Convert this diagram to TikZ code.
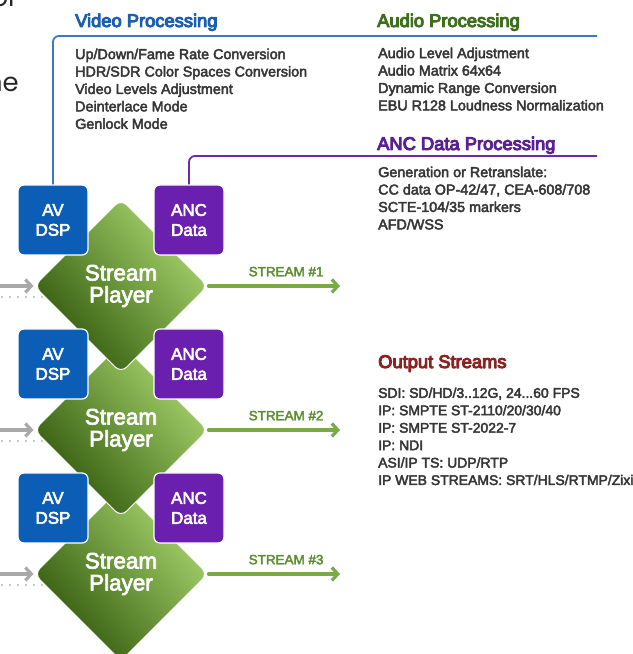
\documentclass[tikz,border=0pt]{standalone}
\usepackage{fontspec}
\setmainfont{Liberation Sans}
\newfontfamily\medfont{Liberation Sans}[FakeBold=3.2]
\newfontfamily\headfont{Liberation Sans}[FakeBold=5.5]
\newfontfamily\fragfont{Poppins}
\usetikzlibrary{shapes.geometric,arrows.meta}
\definecolor{dspblue}{HTML}{0B5DB5}
\definecolor{ancpurple}{HTML}{6A1FAE}
\definecolor{vidblue}{HTML}{1C5FB0}
\definecolor{audgreen}{HTML}{3F6E1E}
\definecolor{ancviolet}{HTML}{5B2192}
\definecolor{outred}{HTML}{8C2323}
\definecolor{bodygray}{HTML}{363636}
\definecolor{playdark}{HTML}{2F560A}
\definecolor{playlight}{HTML}{A8D66E}
\definecolor{streamgreen}{HTML}{79A948}
\definecolor{streamtext}{HTML}{5E8E34}
\definecolor{ingray}{HTML}{A9A9A9}
\definecolor{bluewire}{HTML}{3C78C6}
\definecolor{purplewire}{HTML}{6B2DA6}
\begin{document}
\begin{tikzpicture}[>={Straight Barb[length=6bp,width=13bp]},line join=round,
  player/.style={shape=diamond,minimum width=174bp,minimum height=174bp,inner sep=0pt,rounded corners=8bp,
    draw=white,line width=1bp,top color=playdark,bottom color=playlight,shading angle=130,
    text=white,align=center,font=\fontsize{22.5}{22}\medfont},
  avbox/.style={rectangle,rounded corners=6bp,minimum size=70bp,inner sep=0pt,fill=dspblue,draw=white,
    line width=1.2bp,text=white,align=center,font=\fontsize{17}{20}\medfont},
  ancbox/.style={avbox,fill=ancpurple},
  title/.style={anchor=base west,inner sep=0pt,font=\fontsize{18.4}{20}\headfont},
  list/.style={anchor=north west,inner sep=0pt,align=left,text=bodygray,font=\fontsize{14.4}{17.5}\medfont},
  wire/.style={line width=1.8bp,rounded corners=6bp},
  streamout/.style={->,draw=streamgreen,line width=3.2bp,line cap=round},
  streamlbl/.style={inner sep=0pt,text=streamtext,font=\fontsize{13.5}{15}\medfont},
  feedin/.style={->,draw=ingray,line width=3.2bp,line cap=round},
  feeddots/.style={draw=ingray!80,line width=2.2bp,line cap=round,dash pattern=on 0bp off 8bp},
]
\path[use as bounding box] (0bp,0bp) rectangle (633bp,654bp);
\clip (0bp,0bp) rectangle (633bp,654bp);
%%
\coordinate (vidend) at (597bp,618bp);
\coordinate (ancend) at (597bp,498bp);
\coordinate (in1) at (0bp,368bp);
\coordinate (in2) at (0bp,224bp);
\coordinate (in3) at (0bp,80bp);
\coordinate (dots1a) at (2bp,357bp);
\coordinate (dots1b) at (42bp,357bp);
\coordinate (dots2a) at (2bp,213bp);
\coordinate (dots2b) at (42bp,213bp);
\coordinate (dots3a) at (2bp,69bp);
\coordinate (dots3b) at (42bp,69bp);
\coordinate (out1) at (340bp,368bp);
\coordinate (out2) at (340bp,224bp);
\coordinate (out3) at (340bp,80bp);
%
\node (frag1) at (18bp,647bp) [anchor=base east,inner sep=0pt,text=black!85,font=\fontsize{26}{26}\fragfont] {or};
\node (frag2) at (19bp,562bp) [anchor=base east,inner sep=0pt,text=black!85,font=\fontsize{26}{26}\fragfont] {ne};
%
\draw [feeddots] (dots1a) -- (dots1b);
\draw [feeddots] (dots2a) -- (dots2b);
\draw [feeddots] (dots3a) -- (dots3b);
\node (p3) at (121bp,80bp) [player] {Stream\\Player};
\node (p2) at (121bp,224bp) [player] {Stream\\Player};
\node (p1) at (121bp,368bp) [player] {Stream\\Player};
\node (av1) at (53bp,434bp) [avbox] {AV\\DSP};
\node (anc1) at (189bp,434bp) [ancbox] {ANC\\Data};
\node (av2) at (53bp,290bp) [avbox] {AV\\DSP};
\node (anc2) at (189bp,290bp) [ancbox] {ANC\\Data};
\node (av3) at (53bp,146bp) [avbox] {AV\\DSP};
\node (anc3) at (189bp,146bp) [ancbox] {ANC\\Data};
\draw [wire,bluewire] (av1.north) |- (vidend);
\draw [wire,purplewire] (anc1.north) |- (ancend);
\draw [feedin] (in1) -- (p1.west);
\draw [feedin] (in2) -- (p2.west);
\draw [feedin] (in3) -- (p3.west);
\draw [streamout] (p1.east) -- (out1) node (stream1) [pos=0.59,above=8bp,streamlbl] {STREAM \#1};
\draw [streamout] (p2.east) -- (out2) node (stream2) [pos=0.59,above=8bp,streamlbl] {STREAM \#2};
\draw [streamout] (p3.east) -- (out3) node (stream3) [pos=0.59,above=8bp,streamlbl] {STREAM \#3};
%
\node (vidtitle) at (75bp,627bp) [title,text=vidblue] {Video Processing};
\node (vidlist) at (75bp,605.5bp) [list] {Up/Down/Fame Rate Conversion\\HDR/SDR Color Spaces Conversion\\Video Levels Adjustment\\Deinterlace Mode\\Genlock Mode};
\node (audtitle) at (377bp,627bp) [title,text=audgreen] {Audio Processing};
\node (audlist) at (378bp,606.5bp) [list] {Audio Level Adjustment\\Audio Matrix 64x64\\Dynamic Range Conversion\\EBU R128 Loudness Normalization};
\node (anctitle) at (377bp,504bp) [title,text=ancviolet] {ANC Data Processing};
\node (anclist) at (378bp,487.5bp) [list] {Generation or Retranslate:\\CC data OP-42/47, CEA-608/708\\SCTE-104/35 markers\\AFD/WSS};
\node (outtitle) at (378bp,286bp) [title,text=outred] {Output Streams};
\node (outlist) at (378bp,266.5bp) [list,font=\fontsize{14}{17.5}\medfont] {SDI: SD/HD/3..12G, 24...60 FPS\\IP: SMPTE ST-2110/20/30/40\\IP: SMPTE ST-2022-7\\IP: NDI\\ASI/IP TS: UDP/RTP\\IP WEB STREAMS: SRT/HLS/RTMP/Zixi};
%
\end{tikzpicture}
\end{document}
